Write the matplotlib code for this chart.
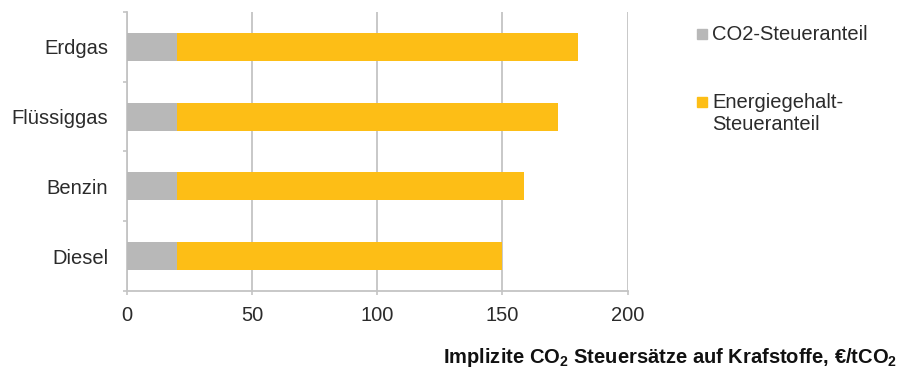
import matplotlib
matplotlib.use("Agg")
import matplotlib.pyplot as plt
from matplotlib.patches import Rectangle
import numpy as np

# Daten: implizite CO2-Steuersätze (€/tCO2)
kraftstoffe = ["Diesel", "Benzin", "Flüssiggas", "Erdgas"]
co2_anteil = [20, 20, 20, 20]
gesamt = [150, 158.7, 172.3, 180]
energie_anteil = [g - c for g, c in zip(gesamt, co2_anteil)]

legende = ["CO2-Steueranteil", "Energiegehalt-\nSteueranteil"]
x_ticks = [0, 50, 100, 150, 200]

GRAU = "#b8b8b8"
GELB = "#fdbe16"
TEXT = "#2b2b2b"
LINIE = "#c4c4c4"

plt.rcParams["font.family"] = ["Liberation Sans", "DejaVu Sans"]
plt.rcParams["mathtext.fontset"] = "custom"
plt.rcParams["mathtext.rm"] = "Liberation Sans"
plt.rcParams["mathtext.bf"] = "Liberation Sans:bold"

fig = plt.figure(figsize=(9, 3.7), dpi=100)
ax = fig.add_axes([0.1411, 0.2135, 0.5563, 0.7541])

y = np.arange(len(kraftstoffe))
b1 = ax.barh(y, co2_anteil, height=0.4, color=GRAU, zorder=3)
b2 = ax.barh(y, energie_anteil, left=co2_anteil, height=0.4, color=GELB, zorder=3)

ax.set_xlim(0, 200)
ax.set_ylim(-0.5, len(kraftstoffe) - 0.5)

# x-Achse
ax.set_xticks(x_ticks)
ax.tick_params(axis="x", length=3, width=1.2, color=LINIE, pad=8,
               labelsize=14.5, labelcolor=TEXT)
ax.grid(axis="x", color=LINIE, lw=1.3, zorder=0)

# y-Achse: Striche zwischen den Kategorien, Beschriftung mittig
ax.set_yticks(np.arange(-0.5, len(kraftstoffe), 1.0))
ax.set_yticklabels([])
ax.set_yticks(y, minor=True)
ax.set_yticklabels(kraftstoffe, minor=True)
ax.tick_params(axis="y", which="major", length=3, width=1.2, color=LINIE)
ax.tick_params(axis="y", which="minor", length=0, pad=13.5,
               labelsize=14.5, labelcolor=TEXT)

for s in ["top", "right"]:
    ax.spines[s].set_visible(False)
for s in ["left", "bottom"]:
    ax.spines[s].set_color(LINIE)
    ax.spines[s].set_linewidth(1.3)

# Legende: Quadrat an der ersten Textzeile
W, H = 900.0, 370.0
eintraege = [(legende[0], GRAU, 34), (legende[1], GELB, 102)]
for text, farbe, yc in eintraege:
    fig.add_artist(Rectangle((697 / W, 1 - (yc + 5) / H), 10 / W, 10 / H,
                             transform=fig.transFigure, color=farbe))
    for i, zeile in enumerate(text.split("\n")):
        fig.text(712 / W, 1 - (yc + 22 * i) / H, zeile, ha="left", va="center",
                 fontsize=14.5, color=TEXT)

fig.text(0.997, 0.018,
         r"Implizite CO$_\mathbf{2}$ Steuersätze auf Krafstoffe, €/tCO$_\mathbf{2}$",
         ha="right", va="baseline", fontsize=14.5, fontweight="bold", color="#111111")

fig.savefig("out.png", dpi=100)
